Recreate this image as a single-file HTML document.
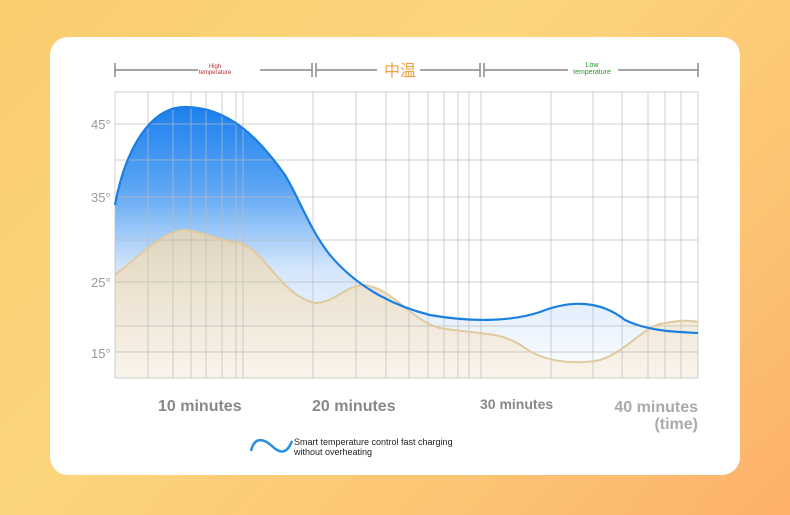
<!DOCTYPE html><html><head><style>
body{margin:0;width:790px;height:515px;overflow:hidden;background:linear-gradient(135deg,#f9cd6e 0%,#fbd57c 40%,#fcc373 75%,#fdb06a 100%);font-family:"Liberation Sans","Noto Sans CJK SC",sans-serif}
.card{position:absolute;left:50px;top:37px;width:690px;height:438px;background:#fff;border-radius:18px}
</style></head><body>
<div class="card"></div>
<svg width="790" height="515" style="position:absolute;left:0;top:0">
<defs>
<linearGradient id="b" gradientUnits="userSpaceOnUse" x1="0" y1="105" x2="0" y2="378"><stop offset="0" stop-color="#1a7fee"/><stop offset="0.3" stop-color="#5aa4f4"/><stop offset="0.6" stop-color="#d4e6fb"/><stop offset="1" stop-color="#ffffff"/></linearGradient>
<linearGradient id="t" gradientUnits="userSpaceOnUse" x1="0" y1="230" x2="0" y2="378"><stop offset="0" stop-color="#e8d5b4"/><stop offset="1" stop-color="#f8f2e8"/></linearGradient>
</defs>
<g stroke="#888" stroke-width="1.5" fill="none">
<path d="M115 70H198M260 70H312M316 70H377M420 70H480M484 70H568M618 70H698M115 63V77M312 63V77M316 63V77M480 63V77M484 63V77M698 63V77"/>
</g>
<text x="215" y="68" font-size="6" fill="#b03030" text-anchor="middle">High</text>
<text x="215" y="74" font-size="6" fill="#b03030" text-anchor="middle">temperature</text>
<text x="400" y="76" font-size="16" fill="#f0a040" text-anchor="middle">中温</text>
<text x="592" y="67" font-size="7" fill="#2a9a2a" text-anchor="middle">Low</text>
<text x="592" y="74" font-size="7" fill="#2a9a2a" text-anchor="middle">temperature</text>
<path d="M115 205C125 150 150 107 185 107C230 107 260 140 285 175C300 200 310 230 330 255C355 285 390 305 430 315C470 322 510 322 540 312C570 300 600 300 625 320C650 332 680 332 698 333V378H115Z" fill="url(#b)"/>
<path d="M115 275C140 255 165 230 185 230C205 232 215 240 240 243C265 250 280 295 315 303C335 303 345 285 365 285C395 290 410 320 440 328C480 335 500 330 525 348C545 362 575 365 600 360C625 352 640 330 660 324C680 320 690 320 698 322V378H115Z" fill="url(#t)" opacity="0.85"/>
<g stroke="#bbb" stroke-opacity="0.7" stroke-width="1" fill="none">
<path d="M115 92H698M115 124H698M115 160H698M115 197H698M115 240H698M115 282H698M115 326H698M115 352H698M115 378H698"/>
<path d="M115 92V378M148 92V378M173 92V378M191 92V378M206 92V378M222 92V378M236 92V378M243 92V378M313 92V378M356 92V378M386 92V378M409 92V378M428 92V378M444 92V378M458 92V378M469 92V378M481 92V378M551 92V378M593 92V378M622 92V378M648 92V378M665 92V378M681 92V378M698 92V378"/>
</g>
<path d="M115 275C140 255 165 230 185 230C205 232 215 240 240 243C265 250 280 295 315 303C335 303 345 285 365 285C395 290 410 320 440 328C480 335 500 330 525 348C545 362 575 365 600 360C625 352 640 330 660 324C680 320 690 320 698 322" fill="none" stroke="#e0cba0" stroke-width="2"/>
<path d="M115 205C125 150 150 107 185 107C230 107 260 140 285 175C300 200 310 230 330 255C355 285 390 305 430 315C470 322 510 322 540 312C570 300 600 300 625 320C650 332 680 332 698 333" fill="none" stroke="#1a7fe0" stroke-width="2.2"/>
<g font-size="13" fill="#999"><text x="91" y="129">45°</text><text x="91" y="202">35°</text><text x="91" y="287">25°</text><text x="91" y="358">15°</text></g>
<g font-size="16" font-weight="bold" fill="#888"><text x="158" y="411">10 minutes</text><text x="312" y="411">20 minutes</text><text x="480" y="409" font-size="14">30 minutes</text><text x="698" y="412" text-anchor="end" fill="#aaa">40 minutes</text><text x="698" y="429" text-anchor="end" fill="#aaa">(time)</text></g>
<path d="M251 451C254 438 262 437 272 446C280 454 287 454 292 441" fill="none" stroke="#2a8ee0" stroke-width="2.5"/>
<text x="294" y="445" font-size="9" fill="#222">Smart temperature control fast charging</text>
<text x="294" y="455" font-size="9" fill="#222">without overheating</text>
</svg>
</body></html>
